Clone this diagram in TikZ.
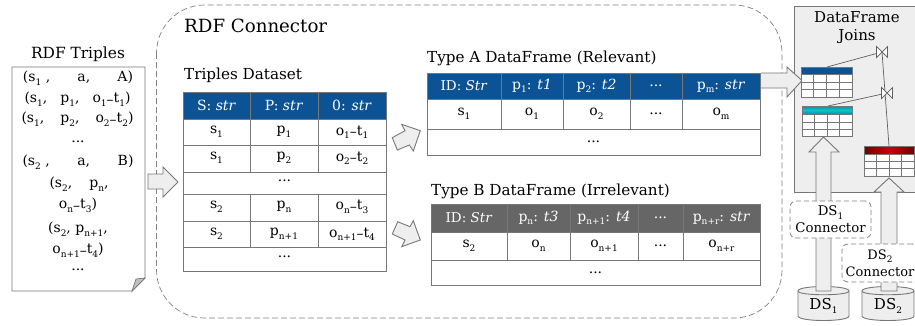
\documentclass[tikz,border=0pt]{standalone}
\usepackage{fontspec}
\setmainfont{DejaVu Serif}
\usetikzlibrary{shapes.geometric,calc}
\definecolor{hblue}{HTML}{0B5394}
\definecolor{hgray}{HTML}{666666}
\definecolor{lnc}{HTML}{777777}
\definecolor{arrf}{HTML}{EEEEEE}
\definecolor{tealA}{HTML}{0096A8}
\definecolor{tealB}{HTML}{10C0CC}
\definecolor{redA}{HTML}{6E0000}
\definecolor{redB}{HTML}{D00000}
\newcommand{\ssc}[1]{\raisebox{-3.5pt}{\fontsize{9}{9}\selectfont #1}}
\newcommand{\ot}[2]{o\ssc{#1}\raisebox{-1.5pt}{–}t\ssc{#2}}
\newcommand{\sbs}[2]{#1\ssc{#2}}
\newcommand{\dline}[2]{\hbox to #1{#2}}
\tikzset{
  lbl/.style={inner sep=0pt,font=\fontsize{14}{16}\selectfont},
  ttl/.style={inner sep=0pt,anchor=west,font=\fontsize{15.2}{17}\selectfont},
  cell/.style={inner sep=0pt,font=\fontsize{14}{16}\selectfont},
  hcell/.style={inner sep=0pt,text=white,font=\fontsize{14}{16}\selectfont},
  grid/.style={draw=lnc,line width=0.9pt},
  minigrid/.style={draw=lnc,line width=0.9pt},
  bigarrow/.style={draw=lnc,fill=arrf,line width=0.9pt,line join=miter},
  joinline/.style={draw=lnc!80!black,line width=0.7pt},
  bowtie/.style={draw=lnc!80!black,fill=white,line width=0.7pt},
  dsconn/.style={draw=gray,fill=white,dash pattern=on 5pt off 3pt,line width=0.8pt,rounded corners=6pt},
  cyl/.style={draw=lnc,fill=arrf,line width=0.9pt},
}
\begin{document}
\begin{tikzpicture}[x=1pt,y=-1pt]
\useasboundingbox (0,0) rectangle (915,325);
% joins box
\fill[arrf] (794,6) rectangle (915,192);
\draw[draw=lnc,line width=0.9pt] (915,6) -- (794,6) -- (794,192) -- (915,192);
% connector outline
\draw[draw=gray,line width=0.7pt,dash pattern=on 6pt off 3pt,rounded corners=48pt] (156.5,5) rectangle (782,318);
% document
\draw[lnc,line width=0.9pt,fill=white] (12,67) -- (145,67) -- (145,278) -- (132,291) -- (12,291) -- cycle;
\draw[lnc,line width=0.7pt,fill=lightgray] (145,278) -- (136,279) -- (132,291) -- cycle;
\node[lbl,font=\fontsize{15.4}{17}\selectfont] (rdft) at (78,54) {RDF Triples};
\node[lbl] (d1) at (78,78) {\dline{110pt}{(\sbs{s}{1} ,\hfill a,\hfill A)}};
\node[lbl] (d2) at (77.5,99) {\dline{106pt}{(\sbs{s}{1},\hfill\sbs{p}{1},\hfill\ot{1}{1})}};
\node[lbl] (d3) at (77.5,119) {\dline{112pt}{(\sbs{s}{1},\hfill\sbs{p}{2},\hfill\ot{2}{2})}};
\node[lbl] (d4) at (78,142) {...};
\node[lbl] (d5) at (78,162) {\dline{111pt}{(\sbs{s}{2} ,\hfill a,\hfill B)}};
\node[lbl] (d6) at (79,184) {\dline{59pt}{(\sbs{s}{2},\hfill\sbs{p}{n},}};
\node[lbl] (d7) at (78,205) {\ot{n}{3})};
\node[lbl] (d8) at (78,229) {(\sbs{s}{2}, \sbs{p}{n+1},};
\node[lbl] (d9) at (78,250) {\ot{n+1}{4})};
\node[lbl] (d10) at (78,270) {...};
% arrow doc->triples
\draw[bigarrow] (148,174) -- (163,174) -- (163,167) -- (178,182) -- (163,197) -- (163,189) -- (148,189) -- cycle;
\node[ttl,font=\fontsize{18.2}{20}\selectfont] (conn) at (184,26) {RDF Connector};
% Triples table
\node[ttl] (tt) at (184,75) {Triples Dataset};
\fill[hblue] (183,92) rectangle (386,119);
\draw[grid] (183,92) rectangle (386,271);
\foreach \y in {119,145,172,194,221,247} \draw[grid] (183,\y) -- (386,\y);
\foreach \x in {250,318} {\draw[grid] (\x,92) -- (\x,172); \draw[grid] (\x,194) -- (\x,247);}
\node[hcell] (h1) at (216.5,105.5) {S: \textit{str}};
\node[hcell] (h2) at (284,105.5) {P: \textit{str}};
\node[hcell] (h3) at (352,105.5) {0: \textit{str}};
\foreach \n/\y/\a/\b/\c in {r1/132/\sbs{s}{1}/\sbs{p}{1}/\ot{1}{1}, r2/158/\sbs{s}{1}/\sbs{p}{2}/\ot{2}{2}, r4/207/\sbs{s}{2}/\sbs{p}{n}/\ot{n}{3}, r5/234/\sbs{s}{2}/\sbs{p}{n+1}/\ot{n+1}{4}} {
  \node[cell] (\n a) at (216.5,\y) {\a};
  \node[cell] (\n b) at (284,\y) {\b};
  \node[cell] (\n c) at (352,\y) {\c};
}
\node[cell] (r3) at (284.5,181) {...};
\node[cell] (r6) at (284.5,257) {...};
% diagonal arrows
\draw[bigarrow] (392.3,137.7) -- (405,130.7) -- (401.7,124.3) -- (420.3,130.7) -- (413.3,151) -- (409.3,145) -- (397.3,150) -- cycle;
\draw[bigarrow] (392.3,234) -- (397.7,221.7) -- (410,226.7) -- (413.3,220.7) -- (420.3,240) -- (401.7,246.7) -- (405,240) -- cycle;
% Type A
\node[ttl] (ta) at (427,58) {Type A DataFrame (Relevant)};
\fill[hblue] (427,73) rectangle (760,99);
\draw[grid] (427,73) rectangle (760,155);
\foreach \y in {99,129} \draw[grid] (427,\y) -- (760,\y);
\foreach \x in {501,563,630,682} \draw[grid] (\x,73) -- (\x,129);
\node[hcell,font=\fontsize{13.5}{14}\selectfont] (a1) at (464,86) {ID: \textit{Str}};
\node[hcell,font=\fontsize{14}{14}\selectfont] (a2) at (532,86) {\sbs{p}{1}: \textit{t1}};
\node[hcell,font=\fontsize{14}{14}\selectfont] (a3) at (596.5,86) {\sbs{p}{2}: \textit{t2}};
\node[hcell] (a4) at (656,86) {...};
\node[hcell,font=\fontsize{14}{14}\selectfont] (a5) at (721,86) {\sbs{p}{m}: \textit{str}};
\node[cell] (b1) at (464,114) {\sbs{s}{1}};
\node[cell] (b2) at (532,114) {\sbs{o}{1}};
\node[cell] (b3) at (596.5,114) {\sbs{o}{2}};
\node[cell] (b4) at (656,114) {...};
\node[cell] (b5) at (721,114) {\sbs{o}{m}};
\node[cell] (b6) at (593.5,142) {...};
% Type B
\node[ttl] (tb) at (431,191) {Type B DataFrame (Irrelevant)};
\fill[hgray] (431,204) rectangle (760,232);
\draw[grid] (431,204) rectangle (760,285);
\foreach \y in {232,260} \draw[grid] (431,\y) -- (760,\y);
\foreach \x in {507,570,638,683} \draw[grid] (\x,204) -- (\x,260);
\node[hcell,font=\fontsize{13.5}{14}\selectfont] (c1) at (469,218) {ID: \textit{Str}};
\node[hcell,font=\fontsize{14}{14}\selectfont] (c2) at (538.5,218) {\sbs{p}{n}: \textit{t3}};
\node[hcell,font=\fontsize{14}{14}\selectfont] (c3) at (604,218) {\sbs{p}{n+1}: \textit{t4}};
\node[hcell] (c4) at (660.5,218) {...};
\node[hcell,font=\fontsize{14}{14}\selectfont] (c5) at (721.5,218) {\sbs{p}{n+r}: \textit{str}};
\node[cell] (e1) at (469,246) {\sbs{s}{2}};
\node[cell] (e2) at (538.5,246) {\sbs{o}{n}};
\node[cell] (e3) at (604,246) {\sbs{o}{n+1}};
\node[cell] (e4) at (660.5,246) {...};
\node[cell] (e5) at (721.5,246) {\sbs{o}{n+r}};
\node[cell] (e6) at (595.5,273) {...};
% Joins title
\node[lbl,align=center,font=\fontsize{15}{18}\selectfont] (jt) at (857,28) {DataFrame\\Joins};
% big arrow A->joins
\draw[bigarrow] (761,73) -- (787,73) -- (787,67) -- (802,80.5) -- (787,97) -- (787,88) -- (761,88);
% cylinders
\foreach \n/\l/\r in {1/798/849,2/862/914} {
  \draw[cyl] (\l,291) -- (\l,316) .. controls (\l,322) and (\r,322) .. (\r,316) -- (\r,291) .. controls (\r,285) and (\l,285) .. cycle;
  \draw[cyl] (\l,291) .. controls (\l,296) and (\r,296) .. (\r,291);
}
\node[cell,font=\fontsize{15}{17}\selectfont] (ds1) at (823.5,306) {\sbs{DS}{1}};
\node[cell,font=\fontsize{15}{17}\selectfont] (ds2) at (888,306) {\sbs{DS}{2}};
% up arrows
\draw[bigarrow] (816,291) -- (816,152) -- (809,152) -- (823.5,137) -- (839,152) -- (831,152) -- (831,291) -- cycle;
\draw[bigarrow] (881,291) -- (881,192) -- (874,192) -- (889,178) -- (904,192) -- (897,192) -- (897,291) -- cycle;
% connector boxes
\node[dsconn,minimum width=81pt,minimum height=37pt,inner sep=0pt,align=center,font=\fontsize{13.3}{17}\selectfont] (c1x) at (830.5,219.5) {\sbs{DS}{1}\\Connector};
\node[dsconn,minimum width=76pt,minimum height=38pt,inner sep=0pt,align=center,font=\fontsize{13}{17}\selectfont] (c2x) at (880,263) {\sbs{DS}{2}\\Connector};
% mini tables
\fill[white] (801,67) rectangle (852,97);
\fill[white] (802,106) rectangle (852,136);
\fill[white] (864,146) rectangle (914,176);
\fill[hblue] (801,67) rectangle (852,74);
\shade[top color=tealA,bottom color=tealA,middle color=tealB] (802,106) rectangle (852,114);
\shade[left color=redA,right color=redA,middle color=redB] (864,146) rectangle (914,154);
\foreach \l/\r/\t/\hb/\ra/\rb/\b in {801/852/67/74/82/89/97, 802/852/106/114/122/129/136, 864/914/146/154/161/168/176} {
  \draw[minigrid] (\l,\t) rectangle (\r,\b);
  \foreach \y in {\hb,\ra,\rb} \draw[minigrid] (\l,\y) -- (\r,\y);
  \foreach \f in {0.25,0.5,0.75} \draw[minigrid] ($(\l,\hb)!\f!(\r,\hb)$) -- ($(\l,\b)!\f!(\r,\b)$);
}
% join lines
\coordinate (j1) at (882,52);
\coordinate (j2) at (887,93);
\coordinate (t1) at (827,67);
\coordinate (t2) at (828,106);
\coordinate (t3) at (889,146);
\draw[joinline] (t1) -- (j1);
\draw[joinline] (t2) -- (j2);
\draw[joinline] (j1) -- (t3);
\foreach \c in {j1,j2} \draw[bowtie] ($(\c)+(-5.5,-5.5)$) -- ($(\c)+(5.5,5.5)$) -- ($(\c)+(5.5,-5.5)$) -- ($(\c)+(-5.5,5.5)$) -- cycle;
\end{tikzpicture}
\end{document}
